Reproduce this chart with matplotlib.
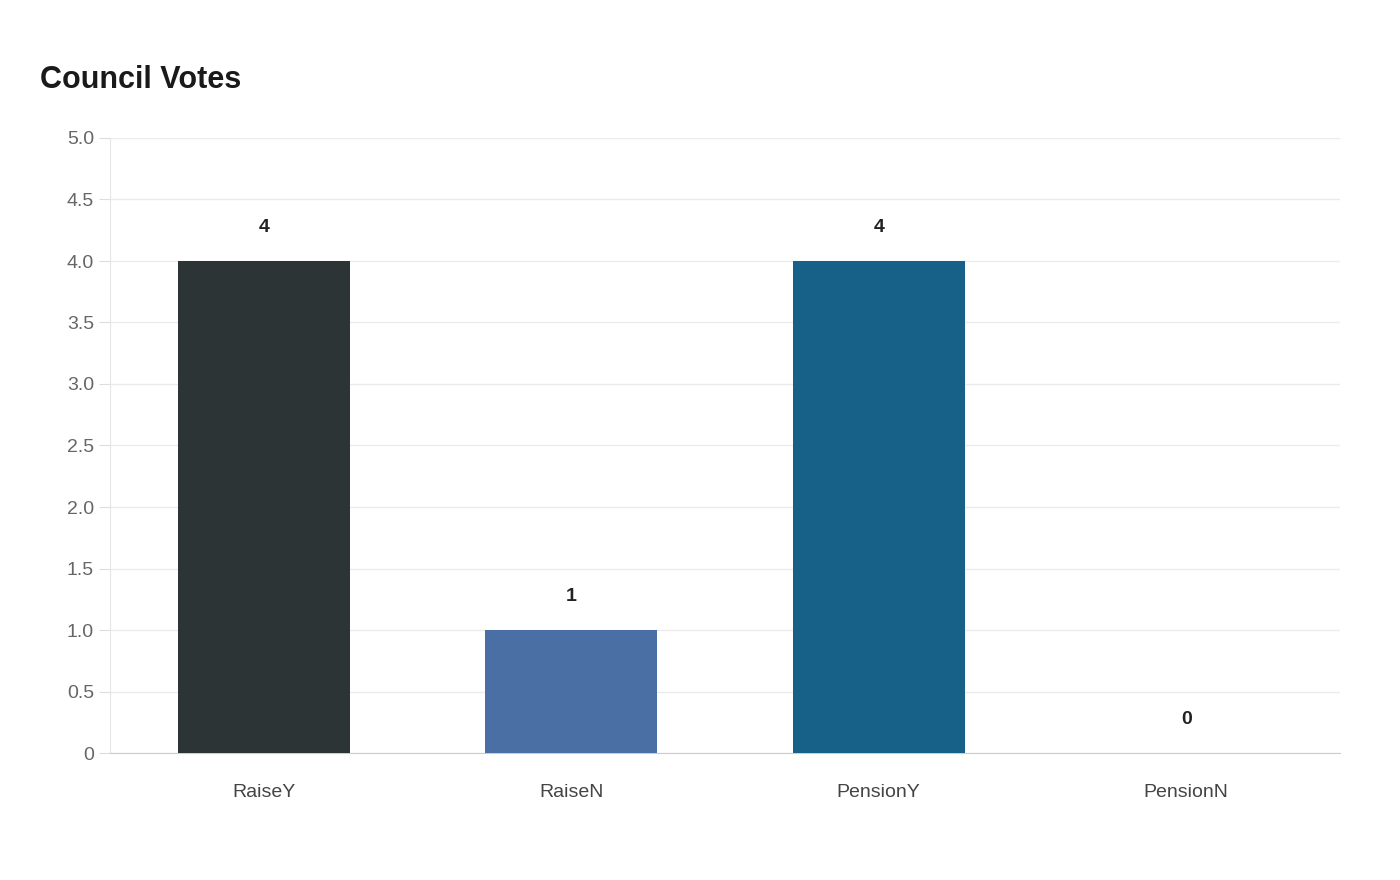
import matplotlib
matplotlib.use("Agg")
import matplotlib.pyplot as plt

plt.rcParams['font.family'] = ['Liberation Sans', 'DejaVu Sans']

categories = ["RaiseY", "RaiseN", "PensionY", "PensionN"]
values = [4, 1, 4, 0]
colors = ["#2d3436", "#4a6fa5", "#176087", "#5b8fb9"]
yticks = [0, 0.5, 1.0, 1.5, 2.0, 2.5, 3.0, 3.5, 4.0, 4.5, 5.0]
yticklabels = ["0", "0.5", "1.0", "1.5", "2.0", "2.5", "3.0", "3.5", "4.0", "4.5", "5.0"]

fig = plt.figure(figsize=(14, 8.8), dpi=100)
ax = fig.add_axes([110/1400, 1-753/880, 1230/1400, 615/880])
x = range(len(categories))
ax.bar(x, values, width=0.56, color=colors, zorder=3)
for xi, v in zip(x, values):
    ax.text(xi, v + 0.2, str(v), ha='center', va='bottom', fontsize=14,
            fontweight='bold', color='#222222')
ax.set_xlim(-0.5, 3.5)
ax.set_ylim(0, 5)
ax.set_yticks(yticks)
ax.set_yticklabels(yticklabels)
ax.set_xticks(list(x))
ax.set_xticklabels(categories)
ax.tick_params(axis='y', labelsize=14, labelcolor='#666666', color='#dddddd', length=8)
ax.tick_params(axis='x', labelsize=14, labelcolor='#444444', length=0, pad=22)
ax.grid(axis='y', color='#ebebeb', linewidth=1, zorder=0)
for s in ['top', 'right']:
    ax.spines[s].set_visible(False)
ax.spines['left'].set_color('#e6e6e6')
ax.spines['bottom'].set_color('#cccccc')
fig.text(40/1400, 1-80/880, "Council Votes", fontsize=22, fontweight='bold',
         color='#1a1a1a', va='center', ha='left')
fig.savefig("out.png", dpi=100, facecolor='white')
